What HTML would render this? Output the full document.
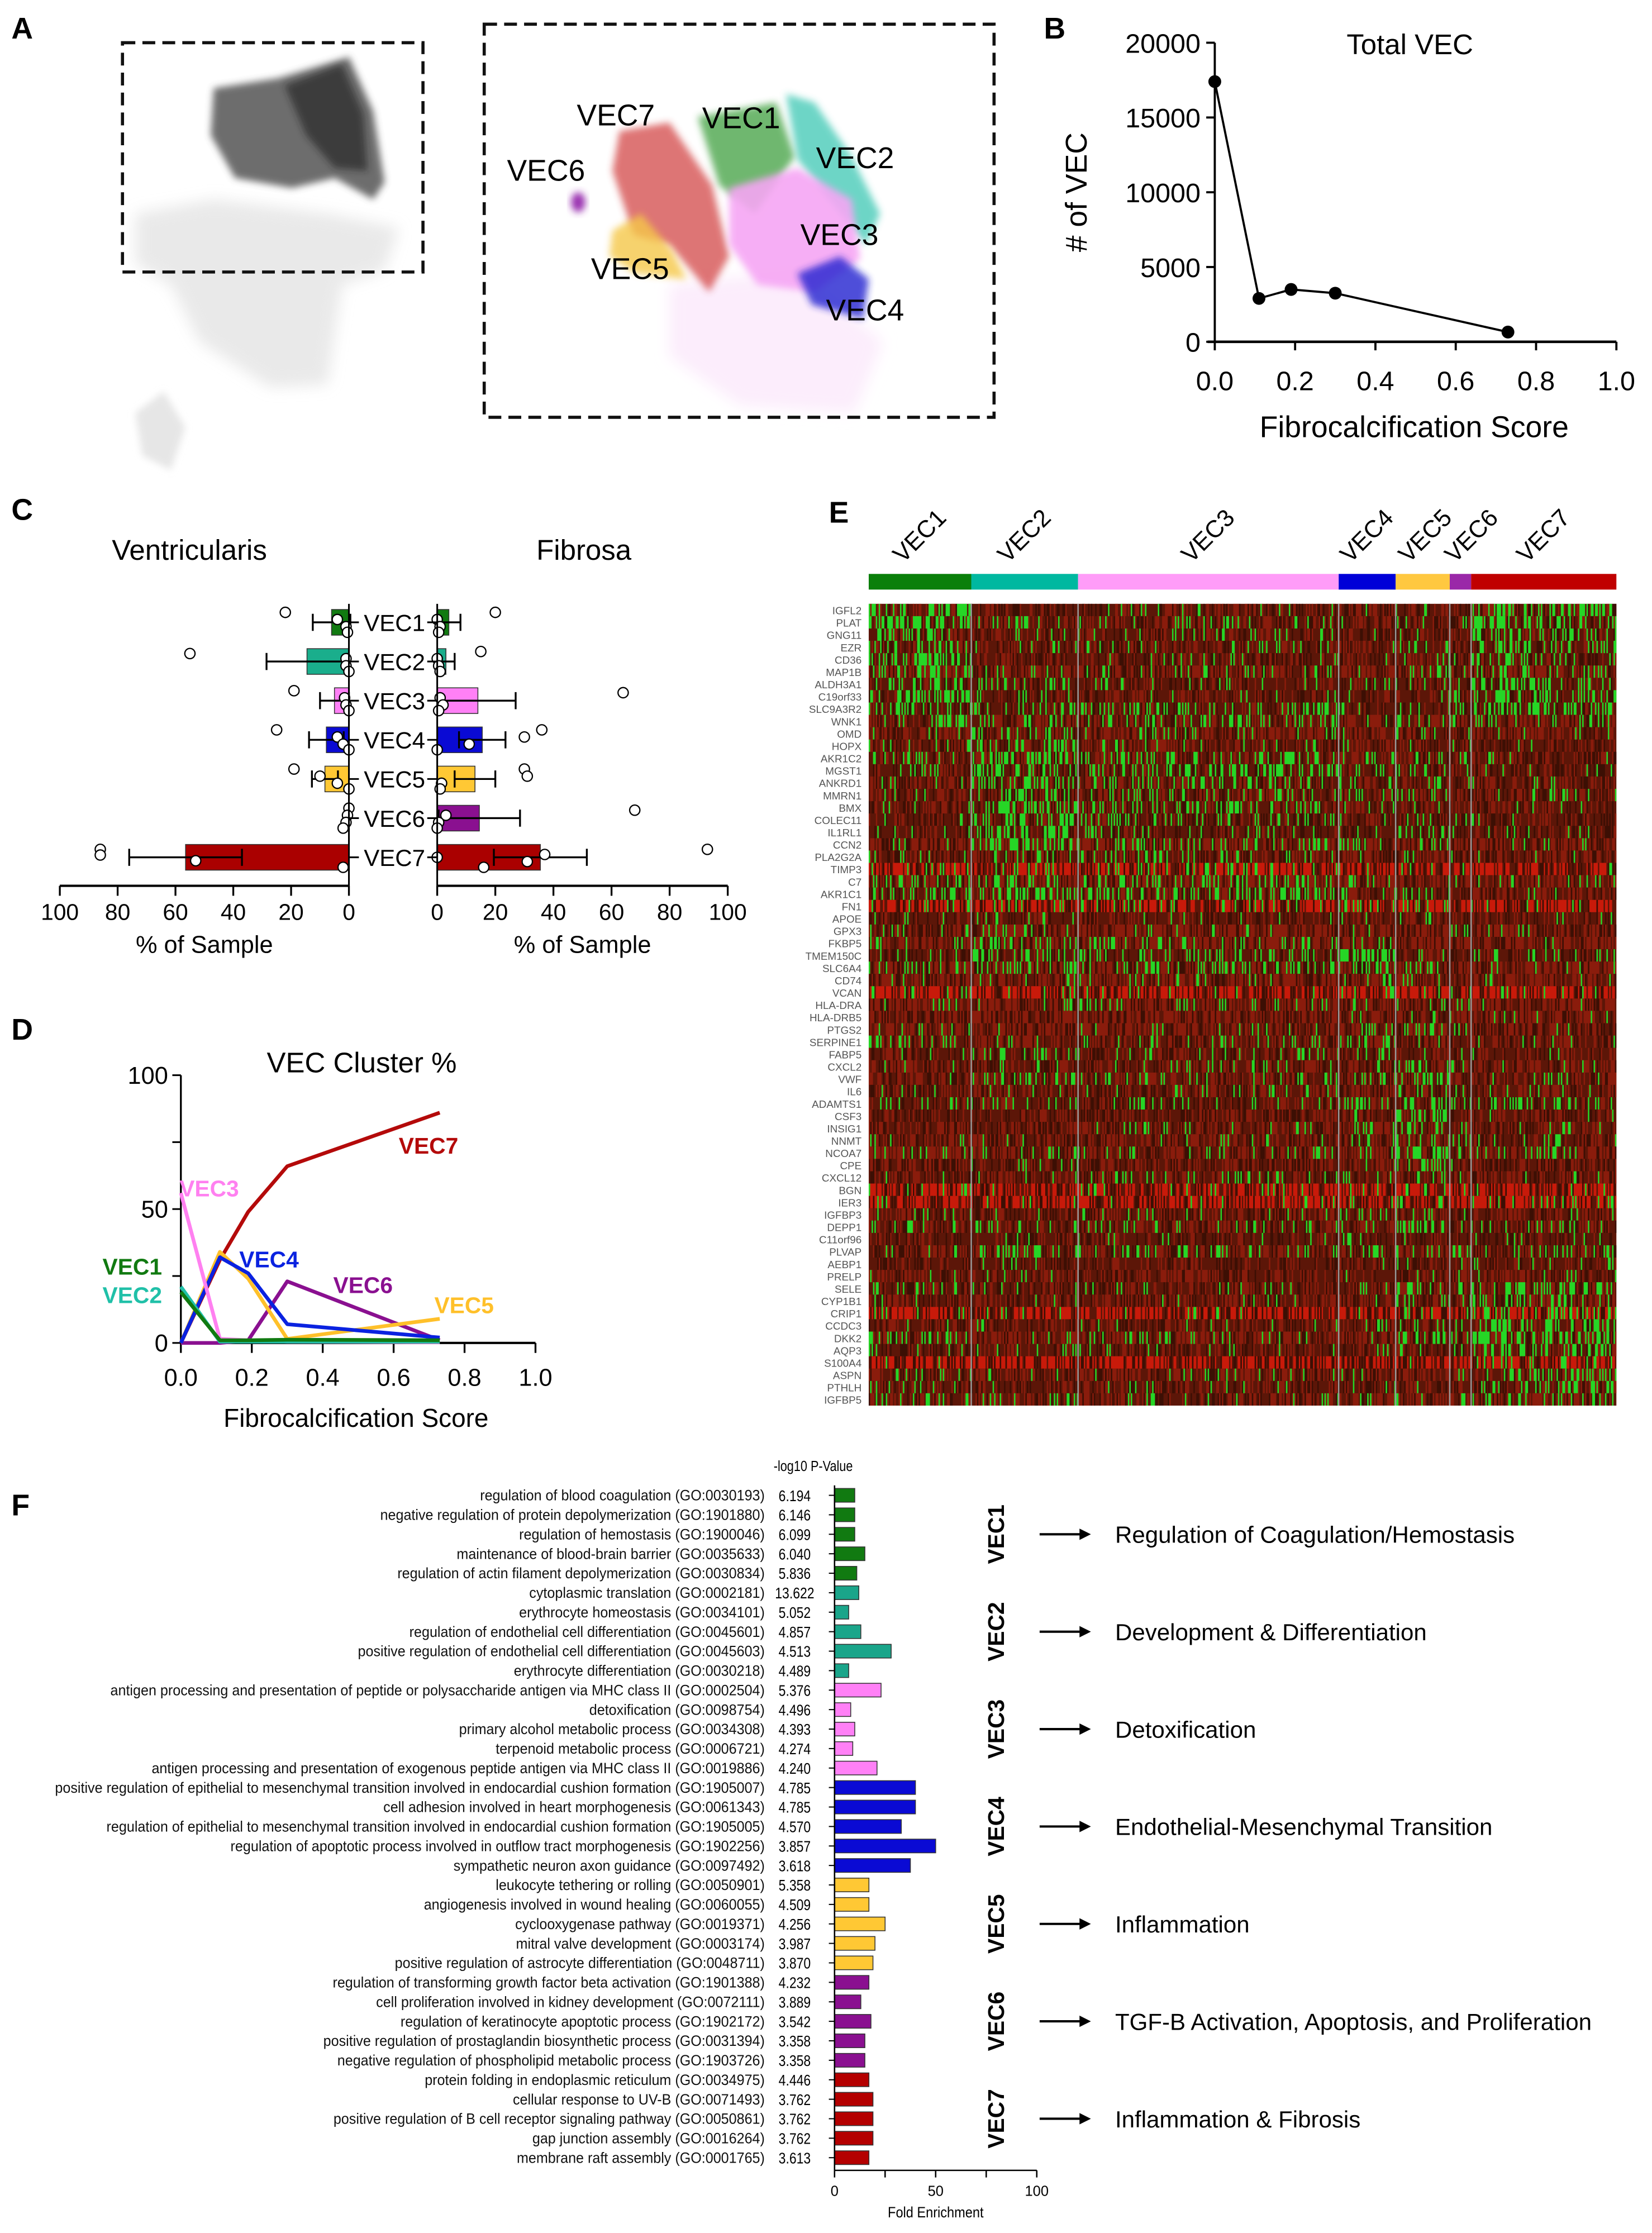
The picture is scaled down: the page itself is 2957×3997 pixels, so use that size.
<!DOCTYPE html>
<html><head><meta charset="utf-8"><style>
html,body{margin:0;padding:0;background:#fff}
svg{display:block}
text{font-family:"Liberation Sans",Arial,sans-serif}
</style></head><body>
<svg id="fig" xmlns="http://www.w3.org/2000/svg" width="2957" height="3997" viewBox="0 0 1160 1568">
<defs>
<filter id="blur2" x="-30%" y="-30%" width="160%" height="160%"><feGaussianBlur stdDeviation="2.5"/></filter>
<filter id="blur4" x="-30%" y="-30%" width="160%" height="160%"><feGaussianBlur stdDeviation="5"/></filter>
</defs>
<g>
<text x="8" y="27" font-size="21" font-weight="bold">A</text>
<g>
<polygon points="95,150 150,140 230,150 280,160 270,190 240,200 230,270 190,272 140,240 120,200 95,185" fill="#e4e4e4" filter="url(#blur4)" opacity="0.8"/>
<polygon points="95,290 115,275 130,300 120,330 100,320" fill="#e6e6e6" filter="url(#blur2)"/>
<polygon points="150,62 195,55 245,40 262,78 270,128 262,140 235,125 205,132 165,125 148,95" fill="#4a4a4a" filter="url(#blur2)" opacity="0.8"/>
<polygon points="200,60 240,45 255,80 258,120 235,118 215,95" fill="#1a1a1a" filter="url(#blur2)" opacity="0.6"/>
</g>
<rect x="86" y="30" width="211" height="161" fill="none" stroke="#111" stroke-width="2.2" stroke-dasharray="9,5"/>
<g>
<polygon points="470,200 560,190 620,240 600,290 520,285 470,250" fill="#fcedfc" filter="url(#blur4)"/>
<polygon points="435,92 470,86 500,130 512,180 498,205 470,172 445,165 430,120" fill="#d03a3a" filter="url(#blur2)" opacity="0.7"/>
<polygon points="490,82 545,72 558,110 530,150 505,130" fill="#3fa03f" filter="url(#blur2)" opacity="0.75"/>
<polygon points="552,66 572,72 598,110 618,150 608,172 582,140 560,112" fill="#3cc8b4" filter="url(#blur2)" opacity="0.75"/>
<polygon points="512,132 560,118 598,140 604,182 572,205 532,200 512,172" fill="#f6a6f4" filter="url(#blur2)" opacity="0.9"/>
<polygon points="560,192 590,180 610,196 606,224 570,214" fill="#2323d0" filter="url(#blur2)" opacity="0.8"/>
<polygon points="430,162 450,150 472,176 482,196 446,192 428,180" fill="#f5c84a" filter="url(#blur2)" opacity="0.8"/>
<ellipse cx="406" cy="142" rx="5" ry="7" fill="#9a30b0" filter="url(#blur2)"/>
</g>
<rect x="340" y="17" width="358" height="276" fill="none" stroke="#111" stroke-width="2.2" stroke-dasharray="9,5"/>
<g font-size="21">
<text x="405" y="88">VEC7</text>
<text x="493" y="90">VEC1</text>
<text x="573" y="118">VEC2</text>
<text x="356" y="127">VEC6</text>
<text x="562" y="172">VEC3</text>
<text x="415" y="196">VEC5</text>
<text x="580" y="225">VEC4</text>
</g>
</g>
<g id="pB"></g>
<g id="pC"></g>
<g id="pD"></g>
<g id="pE"></g>
<g id="pF"></g>
</svg>
<script>
// ---------- DATA ----------
const bScores = [0, 0.11, 0.19, 0.3, 0.73];
const bCounts = [17400, 2900, 3500, 3250, 650];
const bYTicks = [0, 5000, 10000, 15000, 20000];
const bXTicks = [0, 0.2, 0.4, 0.6, 0.8, 1.0];
const cClusters = ["VEC1","VEC2","VEC3","VEC4","VEC5","VEC6","VEC7"];
const cColors = ["#117a11","#1aae8c","#ff80f6","#0a0ad4","#ffc834","#8a1090","#aa0000"];
const ventMean = [6, 14.5, 5, 7.8, 8.3, 0.5, 56.5];
const ventErr = [6.5, 14, 5, 6, 4.5, 0, 19.5];
const ventPts = [[22,4,1,0.5],[55,1,1,0],[19,1.5,1,0],[25,4,2,0],[19,10,4,0],[0,0.5,1,2],[86,86,53,2]];
const fibMean = [4, 3, 14, 15.5, 13, 14.5, 35.5];
const fibErr = [4, 3, 13, 8, 7, 14, 16];
const fibPts = [[20,0,1,0.5],[15,0,0.5,1],[64,1,2,0.5],[36,30,11,0],[30,31,1.5,1],[68,3,0.5,0],[93,37,31,16,0]];
const cTicks = [0,20,40,60,80,100];
const dScores = [0, 0.11, 0.19, 0.3, 0.73];
const dVEC1 = [19, 1, 1, 1.2, 1];
const dVEC2 = [21, 0.5, 0.5, 0.5, 0.5];
const dVEC3 = [56, 1.5, 1, 0.5, 0.3];
const dVEC4 = [0, 32, 26, 7, 2];
const dVEC5 = [0, 34, 24, 1.5, 9];
const dVEC6 = [0, 0, 1, 23, 1];
const dVEC7 = [0, 31, 49, 66, 86];
const dYTicks = [0, 50, 100];
const dXTicks = [0, 0.2, 0.4, 0.6, 0.8, 1.0];
const eClusters = ["VEC1","VEC2","VEC3","VEC4","VEC5","VEC6","VEC7"];
const eClusterCells = [72, 75, 183, 40, 38, 15, 102];
const eGenes = ["IGFL2","PLAT","GNG11","EZR","CD36","MAP1B","ALDH3A1","C19orf33","SLC9A3R2","WNK1","OMD","HOPX","AKR1C2","MGST1","ANKRD1","MMRN1","BMX","COLEC11","IL1RL1","CCN2","PLA2G2A","TIMP3","C7","AKR1C1","FN1","APOE","GPX3","FKBP5","TMEM150C","SLC6A4","CD74","VCAN","HLA-DRA","HLA-DRB5","PTGS2","SERPINE1","FABP5","CXCL2","VWF","IL6","ADAMTS1","CSF3","INSIG1","NNMT","NCOA7","CPE","CXCL12","BGN","IER3","IGFBP3","DEPP1","C11orf96","PLVAP","AEBP1","PRELP","SELE","CYP1B1","CRIP1","CCDC3","DKK2","AQP3","S100A4","ASPN","PTHLH","IGFBP5"];
const eExpr = ["6011116","8331227","5221224","5221224","6011113","5221344","6311235","6211335","6342457","5332333","1421211","2421111","3651211","2753211","1643212","1532212","1742211","1642211","1421411","1533211","1331111","2231211","3443211","6652211","2222211","1211111","1211111","2431211","1438312","3446311","1113211","1112211","1122311","0001211","1113411","3225422","1223211","1112521","1423612","1111211","3225534","0001511","0011421","1112421","2223633","0101510","1122221","1111111","1112222","1111231","2322612","0111111","1533462","0101111","1101111","2111446","2111536","2111224","1112346","5121437","1111236","1000123","3111115","2111115","2222223"];
const eBright = ["TIMP3","VCAN","BGN","IER3","CRIP1","S100A4","FN1"];
const fTerms = ["regulation of blood coagulation (GO:0030193)","negative regulation of protein depolymerization (GO:1901880)","regulation of hemostasis (GO:1900046)","maintenance of blood-brain barrier (GO:0035633)","regulation of actin filament depolymerization (GO:0030834)","cytoplasmic translation (GO:0002181)","erythrocyte homeostasis (GO:0034101)","regulation of endothelial cell differentiation (GO:0045601)","positive regulation of endothelial cell differentiation (GO:0045603)","erythrocyte differentiation (GO:0030218)","antigen processing and presentation of peptide or polysaccharide antigen via MHC class II (GO:0002504)","detoxification (GO:0098754)","primary alcohol metabolic process (GO:0034308)","terpenoid metabolic process (GO:0006721)","antigen processing and presentation of exogenous peptide antigen via MHC class II (GO:0019886)","positive regulation of epithelial to mesenchymal transition involved in endocardial cushion formation (GO:1905007)","cell adhesion involved in heart morphogenesis (GO:0061343)","regulation of epithelial to mesenchymal transition involved in endocardial cushion formation (GO:1905005)","regulation of apoptotic process involved in outflow tract morphogenesis (GO:1902256)","sympathetic neuron axon guidance (GO:0097492)","leukocyte tethering or rolling (GO:0050901)","angiogenesis involved in wound healing (GO:0060055)","cyclooxygenase pathway (GO:0019371)","mitral valve development (GO:0003174)","positive regulation of astrocyte differentiation (GO:0048711)","regulation of transforming growth factor beta activation (GO:1901388)","cell proliferation involved in kidney development (GO:0072111)","regulation of keratinocyte apoptotic process (GO:1902172)","positive regulation of prostaglandin biosynthetic process (GO:0031394)","negative regulation of phospholipid metabolic process (GO:1903726)","protein folding in endoplasmic reticulum (GO:0034975)","cellular response to UV-B (GO:0071493)","positive regulation of B cell receptor signaling pathway (GO:0050861)","gap junction assembly (GO:0016264)","membrane raft assembly (GO:0001765)"];
const fPvals = ["6.194","6.146","6.099","6.040","5.836","13.622","5.052","4.857","4.513","4.489","5.376","4.496","4.393","4.274","4.240","4.785","4.785","4.570","3.857","3.618","5.358","4.509","4.256","3.987","3.870","4.232","3.889","3.542","3.358","3.358","4.446","3.762","3.762","3.762","3.613"];
const fFold = [10,10,10,15,11, 12,7,13,28,7, 23,8,10,9,21, 40,40,33,50,37.5, 17,17,25,20,19, 17,13,18,15,15, 17,19,19,19,17];
const fGroupNames = ["VEC1","VEC2","VEC3","VEC4","VEC5","VEC6","VEC7"];
const fGroupDesc = ["Regulation of Coagulation/Hemostasis","Development & Differentiation","Detoxification","Endothelial-Mesenchymal Transition","Inflammation","TGF-B Activation, Apoptosis, and Proliferation","Inflammation & Fibrosis"];
const fColors = ["#117a11","#1aa58a","#ff80f6","#0a0ad4","#ffc834","#8a1090","#b40000"];
const fTicks = [0,50,100];

const NS = "http://www.w3.org/2000/svg";
function mk(tag, parent, attrs){const e=document.createElementNS(NS,tag);for(const k in attrs)e.setAttribute(k,attrs[k]);parent.appendChild(e);return e;}
function txt(parent, x, y, s, size, anchor, extra){const t=mk("text",parent,Object.assign({x:x,y:y,"font-size":size,"text-anchor":anchor||"start"},extra||{}));t.textContent=s;return t;}

// ---------- PANEL B ----------
(function(){
const g=document.getElementById("pB");
const xB=v=>853+v*282, yB=v=>240-v/20000*210;
let t=txt(g,733,27,"B",21,"start",{"font-weight":"bold"});


t=txt(g,990,38,"Total VEC",20,"middle");


let a=mk("line",g,{x1:xB(0),y1:yB(20000),x2:xB(0),y2:yB(0),stroke:"#000","stroke-width":1.5});


a=mk("line",g,{x1:xB(0)-5,y1:yB(0),x2:xB(1),y2:yB(0),stroke:"#000","stroke-width":1.8});


bYTicks.forEach(v=>{mk("line",g,{x1:xB(0)-6,y1:yB(v),x2:xB(0),y2:yB(v),stroke:"#000","stroke-width":1.5});
 const l=txt(g,xB(0)-10,yB(v)+7,String(v),19,"end");
 
 });
bXTicks.forEach(v=>{mk("line",g,{x1:xB(v),y1:yB(0),x2:xB(v),y2:yB(0)+6,stroke:"#000","stroke-width":1.5});
 const l=txt(g,xB(v),yB(0)+34,v.toFixed(1),19,"middle");
 
 });
t=txt(g,0,0,"# of VEC",21,"middle",{transform:"translate(763,135) rotate(-90)"});


t=txt(g,993,307,"Fibrocalcification Score",21,"middle");


const p=mk("polyline",g,{points:bScores.map((s,i)=>xB(s)+","+yB(bCounts[i])).join(" "),fill:"none",stroke:"#000","stroke-width":1.5});


bScores.forEach((s,i)=>{const c=mk("circle",g,{cx:xB(s),cy:yB(bCounts[i]),r:4.5,fill:"#000"});
 
 });
})();

// ---------- PANEL C ----------
(function(){
const g=document.getElementById("pC");
const xL=v=>245-v*2.03, xR=v=>307+v*2.04, rowY=i=>437+i*27.5;
const jit=[-7,-2,3,7,0];
let t=txt(g,8,365,"C",21,"start",{"font-weight":"bold"});


t=txt(g,133,393,"Ventricularis",20,"middle");


t=txt(g,410,393,"Fibrosa",20,"middle");


[[xL,ventMean,ventErr,ventPts,"vent"],[xR,fibMean,fibErr,fibPts,"fib"]].forEach(([xs,m,e,pts,nm])=>{
 cClusters.forEach((c,i)=>{
  const y=rowY(i), x0=xs(0), x1=xs(m[i]);
  const r=mk("rect",g,{x:Math.min(x0,x1),y:y-9,width:Math.abs(x1-x0),height:18,fill:cColors[i],stroke:"#333","stroke-width":0.6});
  
  
  if(e[i]>0){const ea=xs(m[i]-e[i]), eb=xs(m[i]+e[i]);
   const eg=mk("g",g,{stroke:"#000","stroke-width":1.3});
   
   
   mk("line",eg,{x1:ea,y1:y,x2:eb,y2:y});mk("line",eg,{x1:ea,y1:y-6,x2:ea,y2:y+6});mk("line",eg,{x1:eb,y1:y-6,x2:eb,y2:y+6});}
  pts[i].forEach((v,k)=>{const cc=mk("circle",g,{cx:xs(v),cy:y+jit[k%5]*(v>40?0.8:1),r:3.6,fill:"#fff",stroke:"#000","stroke-width":0.9});
   
   });
 });
});
let a=mk("line",g,{x1:xL(0),y1:424,x2:xL(0),y2:622,stroke:"#000","stroke-width":1.2});


a=mk("line",g,{x1:xR(0),y1:424,x2:xR(0),y2:622,stroke:"#000","stroke-width":1.2});


cClusters.forEach((c,i)=>{const y=rowY(i);
 mk("line",g,{x1:xL(0),y1:y,x2:xL(0)+7,y2:y,stroke:"#000","stroke-width":1.2});
 mk("line",g,{x1:xR(0)-7,y1:y,x2:xR(0),y2:y,stroke:"#000","stroke-width":1.2});
 const l=txt(g,277,y+6,c,16.5,"middle");
 
 });
[[xL,"left"],[xR,"right"]].forEach(([xs,nm])=>{
 const ax=mk("line",g,{x1:xs(0),y1:622,x2:xs(100),y2:622,stroke:"#000","stroke-width":1.6});
 
 
 cTicks.forEach(v=>{mk("line",g,{x1:xs(v),y1:622,x2:xs(v),y2:629,stroke:"#000","stroke-width":1.3});
  const l=txt(g,xs(v),646,String(v),16,"middle");
  
  });
 const tt=txt(g,(xs(0)+xs(100))/2,669,"% of Sample",17,"middle");
 
 
});
})();

// ---------- PANEL D ----------
(function(){
const g=document.getElementById("pD");
const xD=v=>127+v*249, yD=v=>943-v*1.88;
let t=txt(g,8,730,"D",21,"start",{"font-weight":"bold"});


t=txt(g,254,753,"VEC Cluster %",20,"middle");


let a=mk("line",g,{x1:xD(0),y1:yD(100),x2:xD(0),y2:yD(0),stroke:"#000","stroke-width":1.3});


a=mk("line",g,{x1:xD(0),y1:yD(0),x2:xD(1),y2:yD(0),stroke:"#000","stroke-width":1.6});


[0,25,50,75,100].forEach(v=>mk("line",g,{x1:xD(0)-6,y1:yD(v),x2:xD(0),y2:yD(v),stroke:"#000","stroke-width":1.2}));
dYTicks.forEach(v=>{const l=txt(g,xD(0)-9,yD(v)+6,String(v),17,"end");
 
 });
dXTicks.forEach(v=>{mk("line",g,{x1:xD(v),y1:yD(0),x2:xD(v),y2:yD(0)+7,stroke:"#000","stroke-width":1.3});
 const l=txt(g,xD(v),yD(0)+30,v.toFixed(1),17,"middle");
 
 });
t=txt(g,250,1002,"Fibrocalcification Score",18,"middle");


const series=[["vec7",dVEC7,"#b40a0a"],["vec6",dVEC6,"#8a1090"],["vec5",dVEC5,"#ffc02a"],["vec4",dVEC4,"#0a22e0"],["vec3",dVEC3,"#ff80f0"],["vec2",dVEC2,"#20c0a8"],["vec1",dVEC1,"#117a11"]];
series.forEach(([n,vals,col])=>{
 const p=mk("polyline",g,{points:dScores.map((s,i)=>xD(s)+","+yD(vals[i])).join(" "),fill:"none",stroke:col,"stroke-width":2.6,"stroke-linejoin":"round"});
 
 
});
const labs=[["VEC7",280,810,"#b40a0a"],["VEC3",126,840,"#ff80f0"],["VEC1",72,895,"#117a11"],["VEC2",72,915,"#20c0a8"],["VEC4",168,890,"#0a22e0"],["VEC6",234,908,"#8a1090"],["VEC5",305,922,"#ffc02a"]];
labs.forEach(([s,x,y,c])=>{const l=txt(g,x,y,s,16,"start",{"font-weight":"bold",fill:c});
 
 });
})();

// ---------- PANEL E ----------
(function(){
const g=document.getElementById("pE");
const X0=610, X1=1135, Y0=424, Y1=987;
const totalCells=eClusterCells.reduce((a,b)=>a+b,0);
const cellW=(X1-X0)/totalCells, rowH=(Y1-Y0)/eGenes.length;
const barCols=["#0a7f0a","#00b8a0","#ff9cf8","#0000d8","#ffc840","#9a28a8","#c00000"];
let t=txt(g,582,367,"E",21,"start",{"font-weight":"bold"});


const hm=mk("g",g,{});


mk("rect",hm,{x:X0,y:Y0,width:X1-X0,height:Y1-Y0,fill:"#5c1608"});
function h(a,b){let x=(a*374761393+b*668265263)|0;x=(x^(x>>>13))*1274126177|0;x=x^(x>>>16);return ((x>>>0)%1000)/1000;}
let bounds=[];let cum=0;
eClusterCells.forEach((n,ci)=>{bounds.push([cum,cum+n]);cum+=n;});
eGenes.forEach((gene,gi)=>{
 const y=Y0+gi*rowH; const bright=eBright.indexOf(gene)>=0;
 const rowShade=h(gi,99);
 let d="",dr="",dk="";
 bounds.forEach(([s,e],ci)=>{
  const dens=Number(eExpr[gi][ci])/17;
  for(let c=s;c<e;c++){
   const r=h(gi*1000+c,ci+7), r2=h(c,gi+311);
   const x=(X0+c*cellW).toFixed(2);
   const seg="M"+x+" "+y.toFixed(2)+"h"+cellW.toFixed(2)+"v"+rowH.toFixed(2)+"h-"+cellW.toFixed(2)+"z";
   if(r<dens) d+=seg;
   else if(r2<(bright?0.55:0.2+rowShade*0.35)) dr+=seg;
   else if(r2>0.8) dk+=seg;
  }
 });
 if(dr){mk("path",hm,{d:dr,fill:bright?"#c81a0a":"#8a1c0c"});}
 if(dk){mk("path",hm,{d:dk,fill:"#3c0f04"});}
 if(d){const p=mk("path",hm,{d:d,fill:"#26d626"});
  
  }
 const l=txt(g,605,y+rowH-1.3,gene,7.4,"end",{fill:"#555"});
 
 
});
bounds.forEach(([s,e],ci)=>{
 const xa=X0+s*cellW, xb=X0+e*cellW;
 const r=mk("rect",g,{x:xa,y:403,width:xb-xa,height:11,fill:barCols[ci]});
 
 
 if(ci>0){const ln=mk("line",g,{x1:xa,y1:Y0,x2:xa,y2:Y1,stroke:"#999","stroke-width":1});
  
  }
 const cx=(xa+xb)/2+(ci===5?8:0)+(ci===4?2:0);
 const l=txt(g,0,0,eClusters[ci],17,"start",{transform:"translate("+(cx-12)+",396) rotate(-45)"});
 
 
});
})();

// ---------- PANEL F ----------
(function(){
const g=document.getElementById("pF");
const xF=v=>586+v*1.42, rowY=i=>1050+i*13.68;
let t=txt(g,8,1064,"F",21,"start",{"font-weight":"bold"});


t=txt(g,0,0,"-log10 P-Value",10,"middle",{transform:"translate(571,1033) scale(0.85,1)"});


fTerms.forEach((s,i)=>{
 const y=rowY(i), grp=Math.floor(i/5);
 const l=txt(g,0,0,s,10.6,"end",{fill:"#111",transform:"translate(537,"+(y+3.6)+") scale(0.93,1)"});
 
 
 const pv=txt(g,0,0,fPvals[i],11,"middle",{transform:"translate(558,"+(y+4)+") scale(0.82,1)"});
 
 
 const b=mk("rect",g,{x:xF(0),y:y-4.8,width:xF(fFold[i])-xF(0),height:9.6,fill:fColors[grp],stroke:"#333","stroke-width":0.6});
 
 
 mk("line",g,{x1:xF(0)-4,y1:y,x2:xF(0),y2:y,stroke:"#000","stroke-width":0.8});
});
let a=mk("line",g,{x1:xF(0),y1:1043,x2:xF(0),y2:1524,stroke:"#000","stroke-width":1});


a=mk("line",g,{x1:xF(0),y1:1524,x2:xF(100),y2:1524,stroke:"#000","stroke-width":1});


[0,25,50,75,100].forEach(v=>mk("line",g,{x1:xF(v),y1:1524,x2:xF(v),y2:1529,stroke:"#000","stroke-width":1}));
fTicks.forEach(v=>{const l=txt(g,xF(v),1542,String(v),10,"middle");
 
 });
t=txt(g,0,0,"Fold Enrichment",10.5,"middle",{transform:"translate(657,1557) scale(0.88,1)"});


fGroupNames.forEach((n,k)=>{
 const cy=(rowY(k*5)+rowY(k*5+4))/2;
 const l=txt(g,0,0,n,16,"middle",{"font-weight":"bold",transform:"translate(705,"+cy+") rotate(-90)"});
 
 
 const ar=mk("g",g,{});
 
 
 mk("line",ar,{x1:730,y1:cy,x2:760,y2:cy,stroke:"#000","stroke-width":1.6});
 mk("polygon",ar,{points:"758,"+(cy-4)+" 766,"+cy+" 758,"+(cy+4),fill:"#000"});
 const d=txt(g,783,cy+6,fGroupDesc[k],16.5,"start");
 
 
});
})();
</script>
</body></html>
